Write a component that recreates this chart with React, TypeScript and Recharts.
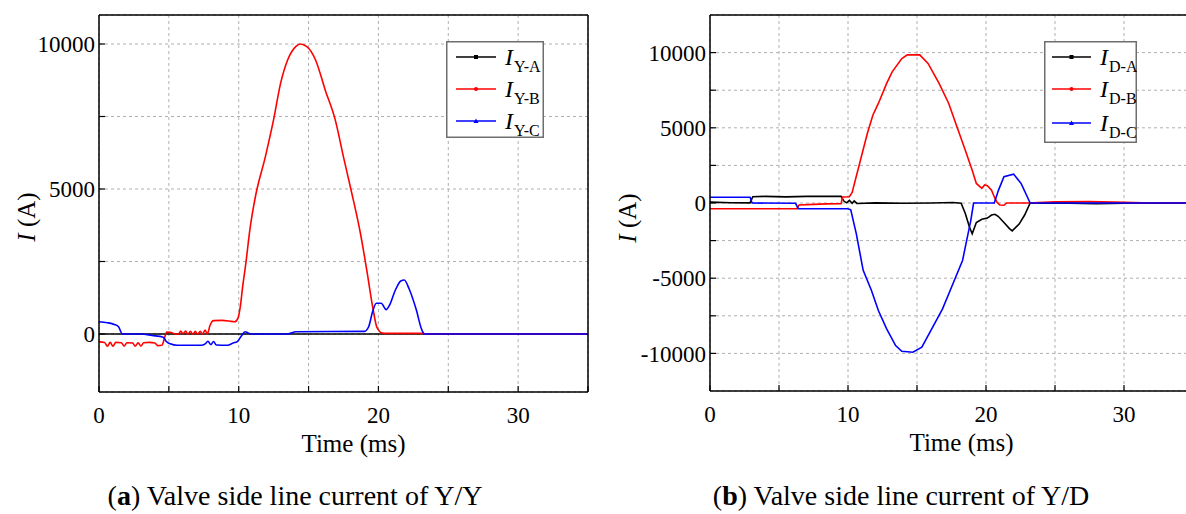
import React from 'react';
import { LineChart, Line, XAxis, YAxis, CartesianGrid, Legend } from 'recharts';

type Pt = { t: number; v: number };

const SERIF = 'Liberation Serif, Times New Roman, serif';

// tick positions (only multiples of 10 / 5000 carry a label)
const xTicks = [0, 5, 10, 15, 20, 25, 30, 35];
const yTicksYY = [0, 2500, 5000, 7500, 10000];
const yTicksYD = [-10000, -7500, -5000, -2500, 0, 2500, 5000, 7500, 10000];

// (a) Y/Y valve side line current
const iYA: Pt[] = [
  { t: 0, v: 0 }, { t: 10, v: 0 }, { t: 20, v: 0 }, { t: 35, v: 0 },
];
const iYB: Pt[] = [
  { t: 0, v: -270 }, { t: 0.4, v: -290 }, { t: 0.6, v: -420 }, { t: 0.8, v: -290 },
  { t: 1.0, v: -420 }, { t: 1.2, v: -290 }, { t: 1.6, v: -300 }, { t: 1.8, v: -420 },
  { t: 2.0, v: -300 }, { t: 2.4, v: -310 }, { t: 2.6, v: -420 }, { t: 2.8, v: -300 },
  { t: 3.0, v: -420 }, { t: 3.2, v: -300 }, { t: 3.6, v: -290 }, { t: 4.0, v: -310 },
  { t: 4.2, v: -400 }, { t: 4.5, v: -390 }, { t: 4.7, v: -120 }, { t: 4.85, v: 70 },
  { t: 5.1, v: 60 }, { t: 5.4, v: 10 }, { t: 5.7, v: 0 }, { t: 5.85, v: 100 },
  { t: 6.0, v: 10 }, { t: 6.2, v: 100 }, { t: 6.35, v: -10 }, { t: 6.55, v: 90 },
  { t: 6.7, v: -10 }, { t: 6.9, v: 90 }, { t: 7.05, v: -10 }, { t: 7.25, v: 90 },
  { t: 7.4, v: -10 }, { t: 7.6, v: 140 }, { t: 7.75, v: 0 }, { t: 7.95, v: 300 },
  { t: 8.2, v: 460 }, { t: 8.8, v: 470 }, { t: 9.3, v: 450 }, { t: 9.7, v: 420 },
  { t: 9.95, v: 550 }, { t: 10.1, v: 900 }, { t: 10.3, v: 1700 }, { t: 10.5, v: 2400 },
  { t: 10.8, v: 3600 }, { t: 11.2, v: 4750 }, { t: 11.9, v: 6100 }, { t: 12.5, v: 7400 },
  { t: 13.0, v: 8650 }, { t: 13.5, v: 9450 }, { t: 14.1, v: 9920 }, { t: 14.4, v: 10000 },
  { t: 14.9, v: 9900 }, { t: 15.5, v: 9450 }, { t: 16.2, v: 8400 }, { t: 16.9, v: 7400 },
  { t: 17.5, v: 6100 }, { t: 18.0, v: 5050 }, { t: 18.7, v: 3500 }, { t: 19.2, v: 2100 },
  { t: 19.6, v: 900 }, { t: 19.9, v: 220 }, { t: 20.3, v: 30 }, { t: 20.6, v: 20 },
  { t: 23.2, v: 20 }, { t: 23.5, v: 0 }, { t: 35, v: 0 },
];
const iYC: Pt[] = [
  { t: 0, v: 420 }, { t: 0.6, v: 390 }, { t: 1.1, v: 330 }, { t: 1.4, v: 250 },
  { t: 1.65, v: 10 }, { t: 2.0, v: 0 }, { t: 3.0, v: 0 }, { t: 3.8, v: -50 },
  { t: 4.6, v: -110 }, { t: 4.8, v: -250 }, { t: 5.1, v: -340 }, { t: 5.6, v: -390 },
  { t: 7.3, v: -390 }, { t: 7.6, v: -340 }, { t: 7.8, v: -250 }, { t: 8.0, v: -370 },
  { t: 8.2, v: -260 }, { t: 8.4, v: -380 }, { t: 9.2, v: -390 }, { t: 9.6, v: -310 },
  { t: 9.9, v: -260 }, { t: 10.2, v: -60 }, { t: 10.45, v: 80 }, { t: 10.7, v: 30 },
  { t: 10.9, v: 0 }, { t: 13.5, v: 0 }, { t: 14.1, v: 80 }, { t: 19.0, v: 90 },
  { t: 19.3, v: 250 }, { t: 19.6, v: 800 }, { t: 19.85, v: 1060 }, { t: 20.2, v: 1060 },
  { t: 20.55, v: 840 }, { t: 20.8, v: 1000 }, { t: 21.2, v: 1500 }, { t: 21.6, v: 1830 },
  { t: 21.85, v: 1860 }, { t: 22.2, v: 1550 }, { t: 22.7, v: 850 }, { t: 23.1, v: 150 },
  { t: 23.3, v: 0 }, { t: 35, v: 0 },
];

// (b) Y/D valve side line current
const iDA: Pt[] = [
  { t: 0, v: 60 }, { t: 1.5, v: 20 }, { t: 2.9, v: 10 }, { t: 3.1, v: 420 },
  { t: 4, v: 440 }, { t: 5.5, v: 410 }, { t: 7, v: 440 }, { t: 9.5, v: 440 },
  { t: 9.7, v: 130 }, { t: 9.9, v: 10 }, { t: 10.1, v: 180 }, { t: 10.3, v: -20 },
  { t: 10.45, v: 140 }, { t: 10.65, v: -30 }, { t: 12, v: 10 }, { t: 14, v: -20 },
  { t: 16, v: 0 }, { t: 17.6, v: 30 }, { t: 18.2, v: -10 }, { t: 18.5, v: -700 },
  { t: 18.8, v: -1600 }, { t: 19.0, v: -2050 }, { t: 19.3, v: -1300 }, { t: 19.7, v: -1080 },
  { t: 20.1, v: -1000 }, { t: 20.4, v: -800 }, { t: 20.65, v: -750 }, { t: 20.9, v: -900 },
  { t: 21.3, v: -1300 }, { t: 21.7, v: -1700 }, { t: 21.9, v: -1850 }, { t: 22.4, v: -1400 },
  { t: 22.8, v: -800 }, { t: 23.2, v: 0 }, { t: 26, v: -10 }, { t: 28, v: -50 },
  { t: 30, v: -20 }, { t: 35, v: 0 },
];
const iDB: Pt[] = [
  { t: 0, v: -380 }, { t: 6.3, v: -380 }, { t: 6.45, v: -130 }, { t: 7.5, v: -90 },
  { t: 8.5, v: -60 }, { t: 9.5, v: -40 }, { t: 9.6, v: 400 }, { t: 10.1, v: 420 },
  { t: 10.3, v: 700 }, { t: 10.9, v: 2840 }, { t: 11.4, v: 4620 }, { t: 11.8, v: 5840 },
  { t: 12.2, v: 6620 }, { t: 12.8, v: 7950 }, { t: 13.2, v: 8720 }, { t: 13.9, v: 9610 },
  { t: 14.3, v: 9850 }, { t: 15.2, v: 9850 }, { t: 15.8, v: 9280 }, { t: 16.6, v: 7950 },
  { t: 17.3, v: 6620 }, { t: 17.9, v: 5060 }, { t: 18.5, v: 3510 }, { t: 19.0, v: 2180 },
  { t: 19.3, v: 1300 }, { t: 19.7, v: 980 }, { t: 19.9, v: 1200 }, { t: 20.1, v: 1150 },
  { t: 20.4, v: 850 }, { t: 20.65, v: 300 }, { t: 20.8, v: 50 }, { t: 21.0, v: -130 },
  { t: 21.3, v: -150 }, { t: 21.5, v: 0 }, { t: 23, v: 0 }, { t: 25, v: 80 },
  { t: 27.5, v: 90 }, { t: 30, v: 40 }, { t: 32, v: 0 }, { t: 35, v: 0 },
];
const iDC: Pt[] = [
  { t: 0, v: 380 }, { t: 2.9, v: 380 }, { t: 3.05, v: 0 }, { t: 6.2, v: -20 },
  { t: 6.4, v: -380 }, { t: 10.0, v: -380 }, { t: 10.2, v: -450 }, { t: 10.6, v: -2040 },
  { t: 11.1, v: -4480 }, { t: 11.7, v: -5820 }, { t: 12.2, v: -7150 }, { t: 12.8, v: -8370 },
  { t: 13.45, v: -9480 }, { t: 13.9, v: -9860 }, { t: 14.7, v: -9920 }, { t: 15.35, v: -9590 },
  { t: 16.0, v: -8480 }, { t: 16.85, v: -7040 }, { t: 17.5, v: -5600 }, { t: 18.3, v: -3820 },
  { t: 18.6, v: -2490 }, { t: 18.9, v: -1150 }, { t: 19.1, v: 0 }, { t: 20.6, v: 0 },
  { t: 20.9, v: 840 }, { t: 21.3, v: 1750 }, { t: 22.0, v: 1920 }, { t: 22.55, v: 1290 },
  { t: 23.2, v: 0 }, { t: 35, v: 0 },
];

const colors = ['#000000', '#ff0000', '#0000ff'];
const subsY = ['Y-A', 'Y-B', 'Y-C'];
const subsD = ['D-A', 'D-B', 'D-C'];

const tickStyle = { fill: '#000', fontSize: 23, fontFamily: SERIF };
const frame = { stroke: '#000', strokeWidth: 1.5 };
const tickLn = { stroke: '#000', strokeWidth: 1.2 };

const Marker = ({ i, x, y, c }: { i: number; x: number; y: number; c: string }) => {
  if (i === 0) return <rect x={x - 2} y={y - 2} width={4} height={4} fill={c} />;
  if (i === 1) return <circle cx={x} cy={y} r={2} fill={c} />;
  return <polygon points={`${x},${y - 2.5} ${x + 2.5},${y + 2} ${x - 2.5},${y + 2}`} fill={c} />;
};

const LegendBox = ({ subs, w, h, rows, lx }: { subs: string[]; w: number; h: number; rows: number[]; lx: [number, number] }) => (
  <svg width={w} height={h} style={{ display: 'block', fontFamily: SERIF }}>
    <rect x={0.75} y={0.75} width={w - 1.5} height={h - 1.5} fill="#fff" stroke="#6e6e6e" strokeWidth={1.5} />
    {subs.map((s, i) => (
      <g key={s}>
        <line x1={lx[0]} x2={lx[1]} y1={rows[i]} y2={rows[i]} stroke={colors[i]} strokeWidth={1.6} />
        <Marker i={i} x={(lx[0] + lx[1]) / 2} y={rows[i]} c={colors[i]} />
        <text x={lx[1] + 9} y={rows[i] + 8} fontSize={24} fontStyle="italic">I</text>
        <text x={lx[1] + 18} y={rows[i] + 15} fontSize={16}>{s}</text>
      </g>
    ))}
  </svg>
);

interface PanelProps {
  series: Pt[][];
  subs: string[];
  yDomain: [number, number];
  yTicks: number[];
  margin: { top: number; right: number; bottom: number; left: number };
  curve: 'monotone' | 'linear';
  legend: { left: number; top: number; w: number; h: number; rows: number[]; lx: [number, number] };
  yLabelX: number;
  yLabelY: number;
}

const Panel = ({ series, subs, yDomain, yTicks, margin, curve, legend, yLabelX, yLabelY }: PanelProps) => (
  <LineChart width={600} height={460} margin={margin} style={{ fontFamily: SERIF }}>
    <CartesianGrid stroke="#b0b0b0" strokeDasharray="3 3" />
    <XAxis
      dataKey="t" type="number" domain={[0, 35]} ticks={xTicks} interval={0} allowDataOverflow
      tickFormatter={(v: number) => (v % 10 === 0 && v < 35 ? String(v) : '')}
      fontSize={23} fontFamily={SERIF}
      tick={tickStyle} axisLine={frame} tickLine={tickLn} tickSize={-6} tickMargin={21} height={62}
      label={{ value: 'Time (ms)', position: 'insideBottom', offset: 2, dx: 10, fill: '#000', fontSize: 25, style: { fontFamily: SERIF } }}
    />
    <XAxis
      xAxisId="top" orientation="top" type="number" domain={[0, 35]} ticks={xTicks} interval={0}
      tickFormatter={() => ''} axisLine={frame} tickLine={tickLn} tickSize={-6} height={1}
    />
    <YAxis
      type="number" domain={yDomain} ticks={yTicks} interval={0} allowDataOverflow
      tickFormatter={(v: number) => (v % 5000 === 0 ? String(v) : '')}
      fontSize={23} fontFamily={SERIF}
      tick={tickStyle} axisLine={frame} tickLine={tickLn} tickSize={-6} tickMargin={10} width={60}
      label={{
        content: () => (
          <text
            x={yLabelX} y={yLabelY} transform={`rotate(-90 ${yLabelX} ${yLabelY})`}
            textAnchor="middle" dominantBaseline="central" style={{ fontFamily: SERIF }} fontSize={25} fill="#000"
          >
            <tspan fontStyle="italic">I</tspan>
            <tspan> (A)</tspan>
          </text>
        ),
      }}
    />
    <YAxis
      yAxisId="right" orientation="right" type="number" domain={yDomain} ticks={yTicks} interval={0}
      tickFormatter={() => ''} axisLine={frame} tickLine={tickLn} tickSize={-6} width={1}
    />
    <Legend
      layout="vertical" align="center" verticalAlign="middle"
      wrapperStyle={{ left: legend.left, top: legend.top, width: legend.w, height: legend.h }}
      content={() => <LegendBox subs={subs} w={legend.w} h={legend.h} rows={legend.rows} lx={legend.lx} />}
    />
    {series.map((d, i) => (
      <Line
        key={subs[i]} data={d} dataKey="v" name={subs[i]} type={curve}
        stroke={colors[i]} strokeWidth={1.6} dot={false} isAnimationActive={false}
      />
    ))}
  </LineChart>
);

export default function App() {
  return (
    <div style={{ position: 'fixed', left: 0, top: 0, width: 1186, height: 514, overflow: 'hidden', background: '#fff', fontFamily: SERIF }}>
      <div style={{ position: 'absolute', left: 0, top: 0 }}>
        <Panel
          series={[iYA, iYB, iYC]} subs={subsY} yDomain={[-2000, 11000]} yTicks={yTicksYY}
          margin={{ top: 14, right: 11, bottom: 6, left: 39 }} curve="monotone"
          legend={{ left: 446, top: 41, w: 98, h: 97, rows: [16, 48, 80], lx: [10, 50] }}
          yLabelX={26} yLabelY={217}
        />
      </div>
      <div style={{ position: 'absolute', left: 600, top: 0 }}>
        <Panel
          series={[iDA, iDB, iDC]} subs={subsD} yDomain={[-12500, 12500]} yTicks={yTicksYD}
          margin={{ top: 14, right: 6, bottom: 7, left: 50 }} curve="linear"
          legend={{ left: 444, top: 41, w: 93, h: 102, rows: [16, 48, 82], lx: [8, 47] }}
          yLabelX={27} yLabelY={218}
        />
      </div>
      <svg width={1186} height={514} style={{ position: 'absolute', left: 0, top: 0, pointerEvents: 'none', fontFamily: SERIF }}>
        <text x={295} y={505} textAnchor="middle" fontSize={28} fill="#000">
          (<tspan fontWeight="bold">a</tspan>) Valve side line current of Y/Y
        </text>
        <text x={901} y={505} textAnchor="middle" fontSize={28} fill="#000">
          (<tspan fontWeight="bold">b</tspan>) Valve side line current of Y/D
        </text>
      </svg>
    </div>
  );
}
